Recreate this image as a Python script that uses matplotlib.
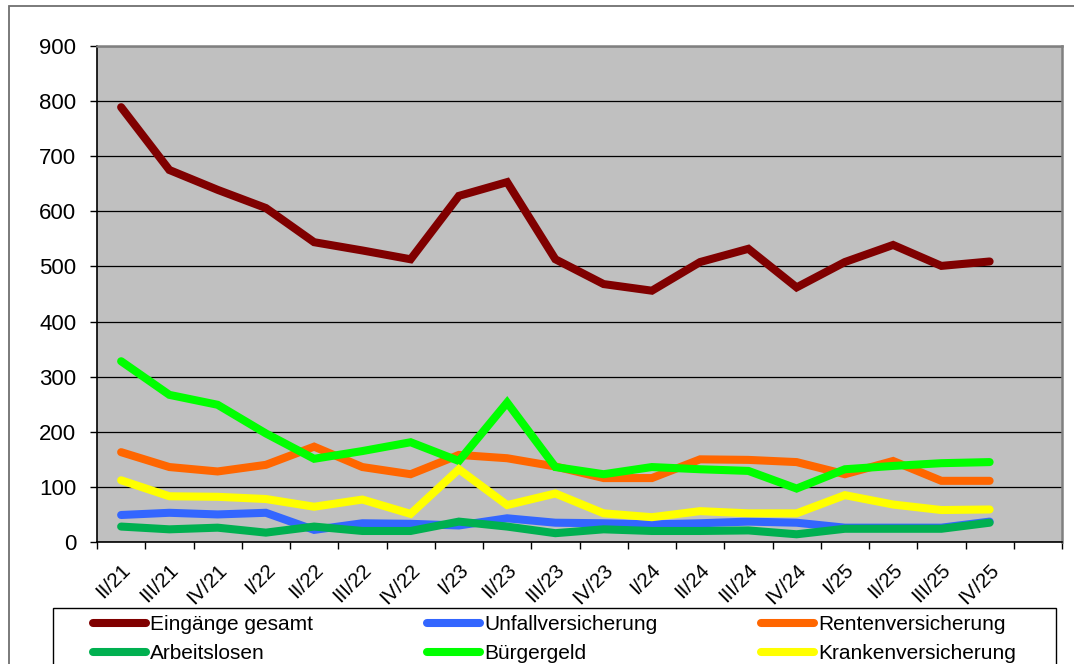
import matplotlib
matplotlib.use("Agg")
import matplotlib.pyplot as plt
from matplotlib.lines import Line2D
from matplotlib.patches import Rectangle
from matplotlib.transforms import ScaledTranslation
import numpy as np

plt.rcParams['font.family'] = ['Liberation Sans', 'DejaVu Sans']

quarters = ["II/21", "III/21", "IV/21", "I/22", "II/22", "III/22", "IV/22",
            "I/23", "II/23", "III/23", "IV/23", "I/24", "II/24", "III/24",
            "IV/24", "I/25", "II/25", "III/25", "IV/25"]

eingaenge = [789, 675, 639, 606, 544, 529, 513, 628, 653, 513, 468, 456, 508, 532, 462, 508, 539, 501, 509]
unfall = [49, 53, 50, 53, 22, 34, 33, 30, 43, 35, 34, 32, 34, 37, 35, 26, 26, 26, 37]
renten = [163, 136, 128, 140, 173, 136, 123, 158, 152, 137, 116, 116, 150, 149, 145, 123, 147, 111, 111]
arbeitslosen = [28, 23, 26, 17, 28, 20, 20, 37, 28, 16, 23, 20, 20, 21, 14, 24, 24, 24, 35]
buergergeld = [328, 267, 249, 197, 151, 165, 181, 147, 253, 136, 123, 136, 132, 129, 97, 132, 138, 143, 145]
kranken = [112, 83, 82, 78, 64, 77, 51, 132, 67, 88, 52, 45, 56, 52, 52, 85, 68, 58, 59]

series = [
    ("Eingänge gesamt", eingaenge, "#800000"),
    ("Unfallversicherung", unfall, "#3366FF"),
    ("Rentenversicherung", renten, "#FF6600"),
    ("Arbeitslosen", arbeitslosen, "#00B050"),
    ("Bürgergeld", buergergeld, "#00FF00"),
    ("Krankenversicherung", kranken, "#FFFF00"),
]

W, H = 1074, 664
fig = plt.figure(figsize=(W / 100, H / 100), dpi=100)
fig.patch.set_facecolor("white")

# outer chart border
fig.patches.append(Rectangle((9 / W, -0.1), 1.2, 1 - 6 / H + 0.1, transform=fig.transFigure,
                             fill=False, edgecolor="#707070", linewidth=1.3))

ax = fig.add_axes([97 / W, 1 - 542 / H, (1062 - 97) / W, (542 - 46) / H])
ax.set_facecolor("#C0C0C0")

x = np.arange(len(quarters))
handles = {}
for name, vals, col in series:
    ln, = ax.plot(x, vals, color=col, lw=5.8, solid_capstyle="round", solid_joinstyle="miter", label=name, zorder=3)
    handles[name] = ln

ax.set_xlim(-0.5, len(quarters) + 0.5)
ax.set_ylim(0, 900)
ax.set_yticks(np.arange(0, 901, 100))
ax.yaxis.grid(True, color="black", lw=0.9, zorder=1)
ax.set_axisbelow(True)

ax.set_xticks(np.arange(-0.5, len(quarters) + 1, 1.0))
ax.set_xticklabels([])
ax.set_xticks(x, minor=True)
ax.set_xticklabels(quarters, minor=True, rotation=45, ha="right", va="center", rotation_mode="anchor")
ax.tick_params(axis="x", which="minor", length=0, pad=18, labelsize=14.8)
ax.tick_params(axis="x", which="major", direction="out", length=5, width=1, color="black")
ax.tick_params(axis="y", direction="out", length=5, width=1, pad=10, labelsize=16)
shift = ScaledTranslation(6 / 100, 0, fig.dpi_scale_trans)
for lab in ax.get_xticklabels(minor=True):
    lab.set_transform(lab.get_transform() + shift)

for s in ["left", "bottom"]:
    ax.spines[s].set_color("black")
    ax.spines[s].set_linewidth(1.2)
for s in ["top", "right"]:
    ax.spines[s].set_color("#808080")
    ax.spines[s].set_linewidth(1.8)

# legend box
fig.patches.append(Rectangle((53 / W, -0.1), (1056 - 53) / W, 1 - 608 / H + 0.1,
                             transform=fig.transFigure, fill=True, facecolor="white",
                             edgecolor="black", linewidth=1.0, zorder=5))

cols = [("Eingänge gesamt", "Arbeitslosen", 93), ("Unfallversicherung", "Bürgergeld", 427),
        ("Rentenversicherung", "Krankenversicherung", 761)]
for a, b, xp in cols:
    hs = [Line2D([], [], color=handles[n].get_color(), lw=5.8, solid_capstyle="round") for n in (a, b)]
    leg = fig.legend(hs, [a, b], loc="upper left", bbox_to_anchor=(xp / W, 1 - 615 / H),
                     frameon=False, fontsize=15, handlelength=2.55, handletextpad=0.2,
                     borderpad=0, borderaxespad=0, labelspacing=0.5)
    leg.set_zorder(6)

fig.savefig("out.png", dpi=100)
